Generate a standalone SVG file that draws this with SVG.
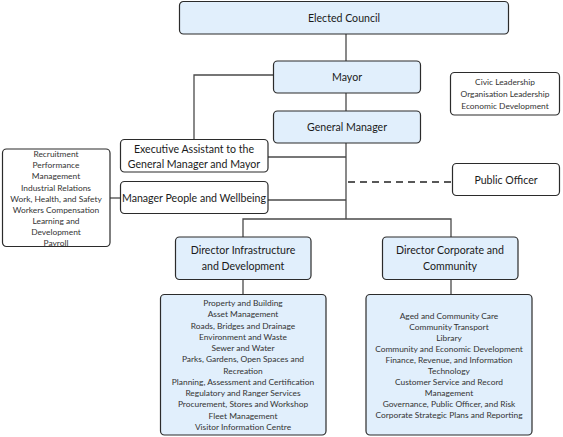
<svg xmlns="http://www.w3.org/2000/svg" width="563" height="437" viewBox="0 0 563 437">
<style>
.bx{fill:#ffffff;stroke:#2b2b2b;stroke-width:1.2}
.bl{fill:#e1effc;stroke:#2b2b2b;stroke-width:1.2}
.t{font-family:Lato,"Liberation Sans",sans-serif;font-size:10.6px;fill:#1a1a1a;text-anchor:middle}
.s{font-family:Lato,"Liberation Sans",sans-serif;font-size:8.4px;fill:#333333;text-anchor:middle}
.c{fill:none;stroke:#4a4a4a;stroke-width:1.3}
.d{fill:none;stroke:#222222;stroke-width:1.3;stroke-dasharray:7,5}
</style>
<rect width="563" height="437" fill="#ffffff"/>
<g id="connectors">
<path class="c" d="M346 34V61"/>
<path class="c" d="M346 93V111"/>
<path class="c" d="M273 75H194V139"/>
<path class="c" d="M346 143V219"/>
<path class="c" d="M268 157H346"/>
<path class="c" d="M268 200H346"/>
<path class="c" d="M110 198H120"/>
<path class="d" d="M348 182H452"/>
<path class="c" d="M243 237V219H451V237"/>
<path class="c" d="M243 279V294"/>
<path class="c" d="M451 279V294"/>
</g>
<g id="elected-council">
<rect class="bl" x="179.5" y="1.5" width="329" height="32.5" rx="4"/>
<text class="t" x="344" y="21.5">Elected Council</text>
</g>
<g id="mayor">
<rect class="bl" x="273.5" y="61" width="147" height="32" rx="4"/>
<text class="t" x="347" y="81">Mayor</text>
</g>
<g id="general-manager">
<rect class="bl" x="273.5" y="111" width="147" height="32" rx="4"/>
<text class="t" x="347" y="131">General Manager</text>
</g>
<g id="civic">
<rect class="bx" x="450.5" y="72.5" width="109" height="42.5" rx="4"/>
<text class="s" x="505" y="85">Civic Leadership</text>
<text class="s" x="505" y="97">Organisation Leadership</text>
<text class="s" x="505" y="109">Economic Development</text>
</g>
<g id="executive-assistant">
<rect class="bx" x="120.5" y="139.5" width="147.5" height="32.5" rx="4"/>
<text class="t" x="194" y="153">Executive Assistant to the</text>
<text class="t" x="194" y="168">General Manager and Mayor</text>
</g>
<g id="manager-people">
<rect class="bx" x="120.5" y="181.5" width="147.5" height="32" rx="4"/>
<text class="t" x="194" y="201.5">Manager People and Wellbeing</text>
</g>
<g id="people-functions">
<rect class="bx" x="2.5" y="149" width="107.5" height="97.5" rx="4"/>
<text class="s" x="56" y="157">Recruitment</text>
<text class="s" x="56" y="168">Performance</text>
<text class="s" x="56" y="179">Management</text>
<text class="s" x="56" y="190.5">Industrial Relations</text>
<text class="s" x="56" y="201.5">Work, Health, and Safety</text>
<text class="s" x="56" y="212.5">Workers Compensation</text>
<text class="s" x="56" y="223.5">Learning and</text>
<text class="s" x="56" y="234.5">Development</text>
<text class="s" x="56" y="245.5">Payroll</text>
</g>
<g id="public-officer">
<rect class="bx" x="452.5" y="163.5" width="107" height="32" rx="4"/>
<text class="t" x="506" y="183.5">Public Officer</text>
</g>
<g id="director-infrastructure">
<rect class="bl" x="175.5" y="237" width="135.5" height="42.5" rx="4"/>
<text class="t" x="243" y="254">Director Infrastructure</text>
<text class="t" x="243" y="270">and Development</text>
</g>
<g id="director-corporate">
<rect class="bl" x="382.5" y="237" width="135.5" height="42.5" rx="4"/>
<text class="t" x="450" y="254">Director Corporate and</text>
<text class="t" x="450" y="270">Community</text>
</g>
<g id="infrastructure-functions">
<rect class="bl" x="160.5" y="294.5" width="165.5" height="140.5" rx="4"/>
<text class="s" x="243" y="306">Property and Building</text>
<text class="s" x="243" y="317.3">Asset Management</text>
<text class="s" x="243" y="328.6">Roads, Bridges and Drainage</text>
<text class="s" x="243" y="339.8">Environment and Waste</text>
<text class="s" x="243" y="351.1">Sewer and Water</text>
<text class="s" x="243" y="362.4">Parks, Gardens, Open Spaces and</text>
<text class="s" x="243" y="373.6">Recreation</text>
<text class="s" x="243" y="384.9">Planning, Assessment and Certification</text>
<text class="s" x="243" y="396.2">Regulatory and Ranger Services</text>
<text class="s" x="243" y="407.4">Procurement, Stores and Workshop</text>
<text class="s" x="243" y="418.7">Fleet Management</text>
<text class="s" x="243" y="430">Visitor Information Centre</text>
</g>
<g id="corporate-functions">
<rect class="bl" x="366" y="294.5" width="166" height="140.5" rx="4"/>
<text class="s" x="449" y="319">Aged and Community Care</text>
<text class="s" x="449" y="330">Community Transport</text>
<text class="s" x="449" y="341">Library</text>
<text class="s" x="449" y="352">Community and Economic Development</text>
<text class="s" x="449" y="363">Finance, Revenue, and Information</text>
<text class="s" x="449" y="374">Technology</text>
<text class="s" x="449" y="385">Customer Service and Record</text>
<text class="s" x="449" y="396">Management</text>
<text class="s" x="449" y="407">Governance, Public Officer, and Risk</text>
<text class="s" x="449" y="418">Corporate Strategic Plans and Reporting</text>
</g>
</svg>
